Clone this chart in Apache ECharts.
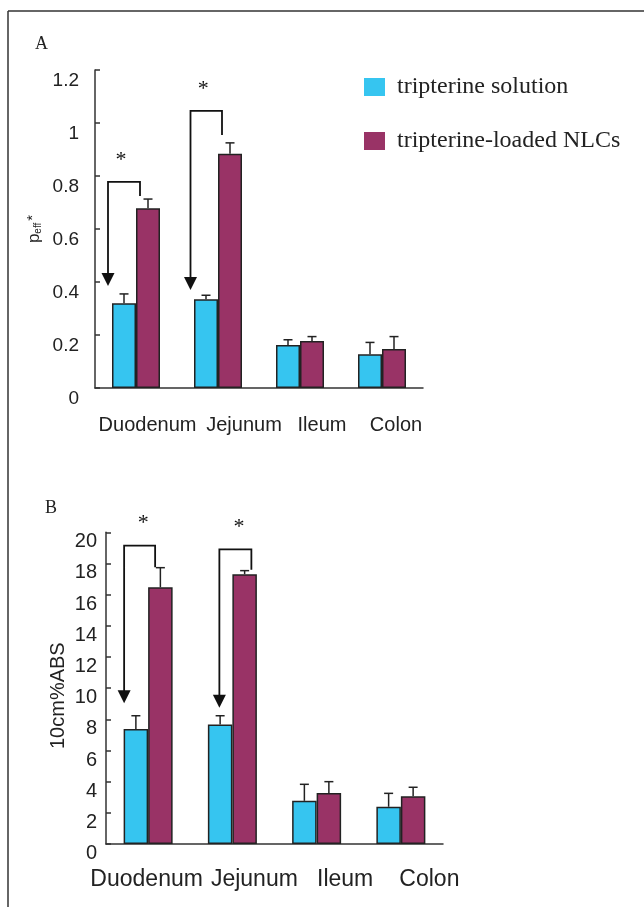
<!DOCTYPE html>
<html><head><meta charset="utf-8">
<script src="https://cdn.jsdelivr.net/npm/echarts@6/dist/echarts.min.js"></script>
<style>html,body{margin:0;padding:0;background:#fff}#c{width:644px;height:907px}</style>
</head><body><div id="c"></div>
<script>
// ---------- data ----------
const categories = ['Duodenum', 'Jejunum', 'Ileum', 'Colon'];
const seriesNames = ['tripterine solution', 'tripterine-loaded NLCs'];
// Panel A: Peff*
const solA = [0.32, 0.335, 0.162, 0.127];
const solAErr = [0.035, 0.015, 0.02, 0.045];
const nlcA = [0.678, 0.884, 0.177, 0.147];
const nlcAErr = [0.035, 0.041, 0.017, 0.047];
// Panel B: 10cm%ABS
const solB = [7.38, 7.66, 2.77, 2.39];
const solBErr = [0.85, 0.57, 1.06, 0.86];
const nlcB = [16.47, 17.31, 3.27, 3.06];
const nlcBErr = [1.26, 0.23, 0.73, 0.58];
// significance brackets: [category, bracket top, arrow tip, right end]
const bracketA = [[0, 0.778, 0.385, 0.725], [1, 1.046, 0.37, 0.955]];
const bracketB = [[0, 19.14, 9.03, 17.75], [1, 18.9, 8.75, 17.6]];
const yTicksA = {min: 0, max: 1.2, interval: 0.2};
const yTicksB = {min: 0, max: 20, interval: 2};

// ---------- layout / style (not data) ----------
const BLUE = '#36C5F0', PURPLE = '#993366', INK = '#222';
const barW = [24, 24.5];
const bracketDx = { A: [[-28, 4, -3], [-27.5, 4, -3]], B: [[-24, 7, 3.5], [-13, 19, 3.5]] };
const labelShiftA = [11.5, 26, 22, 14];
const labelShiftB = [-1.5, 22, 28.5, 28.5];

function richFor(shifts, size) {
  const r = {};
  shifts.forEach((d, i) => {
    r['c' + i] = { fontSize: size, fontFamily: 'Liberation Sans', color: INK,
      padding: d >= 0 ? [0, 0, 0, 2 * d] : [0, -2 * d, 0, 0] };
  });
  return r;
}

function errSeries(name, grid, vals, errs, dx) {
  return {
    type: 'custom', name: name, xAxisIndex: grid, yAxisIndex: grid, clip: false, silent: true, z: 5,
    data: vals.map((v, i) => [i, v, v + errs[i]]),
    renderItem: (params, api) => {
      const top = api.coord([api.value(0), api.value(2)]);
      const bot = api.coord([api.value(0), api.value(1)]);
      const x = top[0] + dx;
      const st = { stroke: INK, lineWidth: 1.5 };
      return { type: 'group', children: [
        { type: 'line', shape: { x1: x, y1: bot[1], x2: x, y2: top[1] }, style: st },
        { type: 'line', shape: { x1: x - 4.5, y1: top[1], x2: x + 4.5, y2: top[1] }, style: st }
      ]};
    }
  };
}

function bracketSeries(name, grid, data, dxs) {
  return {
    type: 'custom', name: name, xAxisIndex: grid, yAxisIndex: grid, clip: false, silent: true, z: 6,
    data: data,
    renderItem: (params, api) => {
      const i = params.dataIndex;
      const c = api.value(0);
      const pTop = api.coord([c, api.value(1)]);
      const pTip = api.coord([c, api.value(2)]);
      const pR = api.coord([c, api.value(3)]);
      const xl = pTop[0] + dxs[i][0], xr = pTop[0] + dxs[i][1];
      const yt = pTop[1];
      const st = { stroke: '#111', lineWidth: 1.8, fill: null };
      return { type: 'group', children: [
        { type: 'polyline', shape: { points: [[xl, pTip[1] - 11], [xl, yt], [xr, yt], [xr, pR[1]]] }, style: st },
        { type: 'polygon', shape: { points: [[xl - 6.5, pTip[1] - 13], [xl + 6.5, pTip[1] - 13], [xl, pTip[1]]] }, style: { fill: '#111' } },
        { type: 'text', style: { text: '*', x: (xl + xr) / 2 + dxs[i][2], y: yt - 22, fontSize: 22,
            fontFamily: 'Liberation Serif', fill: '#111', align: 'center', verticalAlign: 'middle' } }
      ]};
    }
  };
}

const chart = echarts.init(document.getElementById('c'), null, { renderer: 'canvas' });
const axisLineStyle = { color: '#333', width: 1.5 };
chart.setOption({
  animation: false,
  backgroundColor: '#fff',
  grid: [
    { left: 95, top: 70, width: 328, height: 318 },
    { left: 106, top: 532.3, width: 337, height: 311.7 }
  ],
  legend: {
    data: seriesNames, orient: 'vertical', left: 359, top: 70, icon: 'rect',
    itemWidth: 21, itemHeight: 18, itemGap: 30,
    itemStyle: { borderWidth: 0 },
    textStyle: { fontFamily: 'Liberation Serif', fontSize: 24, lineHeight: 24, color: INK, padding: [0, 0, 0, 7] }
  },
  xAxis: [
    { type: 'category', gridIndex: 0, data: categories,
      axisLine: { lineStyle: axisLineStyle }, axisTick: { inside: true, length: 7, lineStyle: axisLineStyle },
      axisLabel: { interval: 0, margin: 27, formatter: (v, i) => '{c' + i + '|' + v + '}', rich: richFor(labelShiftA, 20) } },
    { type: 'category', gridIndex: 1, data: categories,
      axisLine: { lineStyle: axisLineStyle }, axisTick: { inside: true, length: 7, lineStyle: axisLineStyle },
      axisLabel: { interval: 0, margin: 24, formatter: (v, i) => '{c' + i + '|' + v + '}', rich: richFor(labelShiftB, 23) } }
  ],
  yAxis: [
    { type: 'value', gridIndex: 0, min: yTicksA.min, max: yTicksA.max, interval: yTicksA.interval,
      splitLine: { show: false },
      axisLine: { show: true, lineStyle: axisLineStyle },
      axisTick: { show: true, inside: true, length: 5, lineStyle: axisLineStyle },
      axisLabel: { margin: 16, fontSize: 19, fontFamily: 'Liberation Sans', color: INK, verticalAlign: 'top', lineHeight: 22 },
      name: '{p|p}{s|eff}{a|*}', nameLocation: 'middle', nameRotate: 90, nameGap: 52, nameMoveOverlap: false,
      nameTextStyle: { rich: {
        p: { fontSize: 17, fontFamily: 'Liberation Sans', color: INK, lineHeight: 18, verticalAlign: 'middle' },
        s: { fontSize: 10, fontFamily: 'Liberation Sans', color: INK, lineHeight: 18, verticalAlign: 'bottom' },
        a: { fontSize: 15, fontFamily: 'Liberation Sans', color: INK, lineHeight: 18, verticalAlign: 'top', padding: [0, 0, 0, 2] }
      } } },
    { type: 'value', gridIndex: 1, min: yTicksB.min, max: yTicksB.max, interval: yTicksB.interval,
      splitLine: { show: false },
      axisLine: { show: true, lineStyle: axisLineStyle },
      axisTick: { show: true, inside: true, length: 5, lineStyle: axisLineStyle },
      axisLabel: { margin: 9, fontSize: 20, fontFamily: 'Liberation Sans', color: INK, verticalAlign: 'top', lineHeight: 19 },
      name: '10cm%ABS', nameLocation: 'middle', nameRotate: 90, nameGap: 38, nameMoveOverlap: false,
      nameTextStyle: { fontSize: 20, fontFamily: 'Liberation Sans', color: INK, padding: [0, 15, 0, 0] } }
  ],
  series: [
    { type: 'bar', name: seriesNames[0], xAxisIndex: 0, yAxisIndex: 0, data: solA, barWidth: barW[0], barGap: '0%',
      itemStyle: { color: BLUE, borderColor: INK, borderWidth: 1.5 } },
    { type: 'bar', name: seriesNames[1], xAxisIndex: 0, yAxisIndex: 0, data: nlcA, barWidth: barW[0], barGap: '0%',
      itemStyle: { color: PURPLE, borderColor: INK, borderWidth: 1.5 } },
    { type: 'bar', name: seriesNames[0], xAxisIndex: 1, yAxisIndex: 1, data: solB, barWidth: barW[1], barGap: '0%',
      itemStyle: { color: BLUE, borderColor: INK, borderWidth: 1.5 } },
    { type: 'bar', name: seriesNames[1], xAxisIndex: 1, yAxisIndex: 1, data: nlcB, barWidth: barW[1], barGap: '0%',
      itemStyle: { color: PURPLE, borderColor: INK, borderWidth: 1.5 } },
    errSeries('errA1', 0, solA, solAErr, -barW[0] / 2),
    errSeries('errA2', 0, nlcA, nlcAErr, barW[0] / 2),
    errSeries('errB1', 1, solB, solBErr, -barW[1] / 2),
    errSeries('errB2', 1, nlcB, nlcBErr, barW[1] / 2),
    bracketSeries('brA', 0, bracketA, bracketDx.A),
    bracketSeries('brB', 1, bracketB, bracketDx.B)
  ],
  graphic: [
    { type: 'line', shape: { x1: 8, y1: 11, x2: 644, y2: 11 }, style: { stroke: '#333', lineWidth: 1.5 } },
    { type: 'line', shape: { x1: 8, y1: 11, x2: 8, y2: 907 }, style: { stroke: '#333', lineWidth: 1.5 } },
    { type: 'text', left: 35, top: 35, style: { text: 'A', fontSize: 18, fontFamily: 'Liberation Serif', fill: INK } },
    { type: 'text', left: 45, top: 499, style: { text: 'B', fontSize: 18, fontFamily: 'Liberation Serif', fill: INK } }
  ]
});
</script></body></html>
